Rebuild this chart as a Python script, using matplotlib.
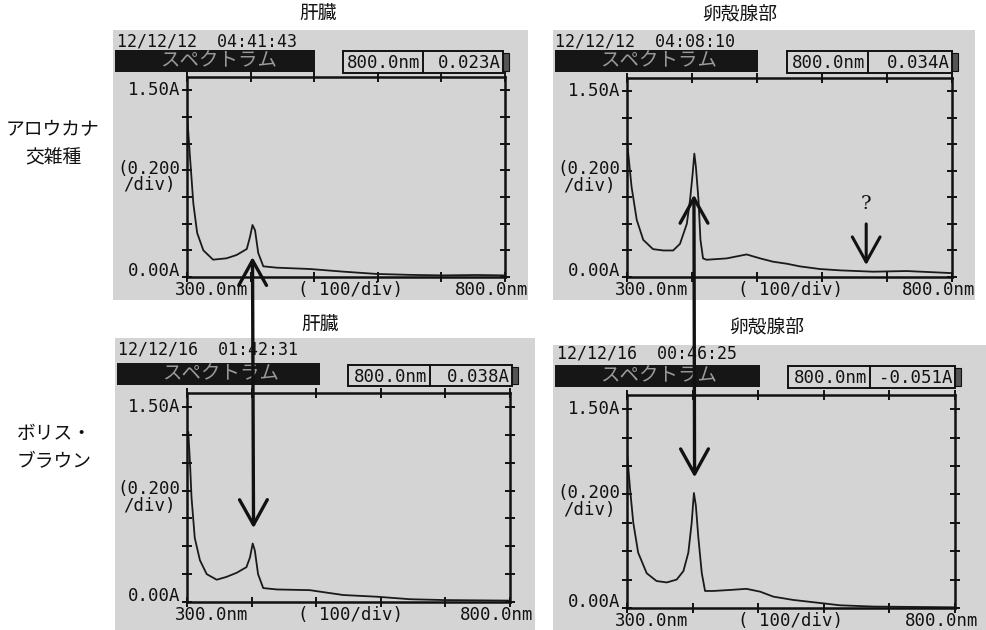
import matplotlib
matplotlib.use('Agg')
import matplotlib.pyplot as plt
from matplotlib.patches import Rectangle, ConnectionPatch, ArrowStyle

# ---------------- data ----------------
col_titles = ['肝臓', '卵殻腺部', '肝臓', '卵殻腺部']
row_labels = ['アロウカナ\n交雑種', 'ボリス・\nブラウン']
timestamps = ['12/12/12  04:41:43', '12/12/12  04:08:10',
              '12/12/16  01:42:31', '12/12/16  00:46:25']
readout_wl = ['800.0nm', '800.0nm', '800.0nm', '800.0nm']
readout_abs = ['0.023A', '0.034A', '0.038A', '-0.051A']
screen_title = 'スペクトラム'

# Araucana cross - liver
wl_tl = [300.5, 304.7, 310, 316, 325.7, 341, 362, 378, 394, 399, 403, 407, 412,
         420, 441, 493, 546, 598, 650, 703, 755, 800]
abs_tl = [1.19, 0.90, 0.55, 0.33, 0.20, 0.13, 0.14, 0.165, 0.21, 0.30, 0.39, 0.35,
          0.18, 0.08, 0.07, 0.06, 0.04, 0.023, 0.016, 0.012, 0.015, 0.012]
# Araucana cross - shell gland
wl_tr = [300.5, 307, 315, 325, 340, 356, 371, 381.5, 392, 397, 401, 403.6, 406,
         410, 413, 417, 422.5, 453, 484, 505, 525, 546, 566, 597, 628, 679, 730, 797]
abs_tr = [1.00, 0.68, 0.43, 0.28, 0.21, 0.20, 0.20, 0.25, 0.40, 0.58, 0.78, 0.93,
          0.83, 0.58, 0.28, 0.14, 0.13, 0.14, 0.17, 0.14, 0.115, 0.10, 0.08, 0.06,
          0.05, 0.04, 0.045, 0.03]
# Boris Brown - liver
wl_bl = [302, 304.6, 307, 312, 320, 330.5, 346, 361, 377, 392, 397.5, 401.7, 405,
         410, 418, 439, 490, 542, 593.6, 645, 697, 797]
abs_bl = [1.22, 1.00, 0.75, 0.46, 0.30, 0.20, 0.16, 0.18, 0.21, 0.25, 0.32, 0.42,
          0.37, 0.20, 0.10, 0.09, 0.085, 0.05, 0.038, 0.02, 0.014, 0.01]
# Boris Brown - shell gland
wl_br = [300.5, 304.6, 309.6, 317, 330, 345, 360.5, 375.7, 386, 393.5, 398.6, 402,
         405, 408.7, 414, 419, 431.5, 457, 482, 503, 523, 553, 589, 625, 676, 797]
abs_br = [1.07, 0.84, 0.60, 0.39, 0.245, 0.19, 0.18, 0.20, 0.26, 0.39, 0.60, 0.81,
          0.72, 0.50, 0.245, 0.12, 0.12, 0.127, 0.135, 0.115, 0.08, 0.057, 0.038,
          0.019, 0.01, 0.005]

series = [(wl_tl, abs_tl), (wl_tr, abs_tr), (wl_bl, abs_bl), (wl_br, abs_br)]

# ---------------- layout (pixels) ----------------
W, H = 986, 630
layouts = [
    dict(screen=(113, 30, 528, 300), ax=(187, 77, 505, 277), date=(117, 41),
         bar=(115, 50, 315, 72), box=(343, 51, 423, 503, 73), title=(318, 14)),
    dict(screen=(553, 30, 975, 300), ax=(627, 78, 952, 277), date=(555, 41),
         bar=(555, 50, 758, 72), box=(787, 51, 868, 952, 73), title=(740, 14)),
    dict(screen=(115, 338, 535, 630), ax=(187, 393, 510, 602), date=(118, 350),
         bar=(117, 363, 320, 385), box=(348, 365, 430, 512, 386), title=(320, 325)),
    dict(screen=(553, 345, 986, 630), ax=(627, 395, 955, 608), date=(557, 353),
         bar=(555, 365, 760, 387), box=(788, 366, 870, 955, 388), title=(767, 327)),
]

fig = plt.figure(figsize=(W / 100, H / 100), dpi=100)
fig.patch.set_facecolor('white')

def fx(x):
    return x / W

def fy(y):
    return 1 - y / H

def frect(x0, y0, x1, y1, **kw):
    r = Rectangle((fx(x0), fy(y1)), fx(x1) - fx(x0), fy(y0) - fy(y1),
                  transform=fig.transFigure, **kw)
    fig.add_artist(r)
    return r

MONO = 'DejaVu Sans Mono'
CJK = ['Noto Sans CJK JP', 'DejaVu Sans']
SCREEN = '#d4d4d4'

axes = []
for i, (lay, (wl, ab)) in enumerate(zip(layouts, series)):
    # screen background
    frect(*lay['screen'], facecolor=SCREEN, edgecolor='none', zorder=0)
    # column title
    fig.text(fx(lay['title'][0]), fy(lay['title'][1]), col_titles[i], family=CJK,
             fontsize=13.5, ha='center', va='center', color='#111')
    # date
    fig.text(fx(lay['date'][0]), fy(lay['date'][1]), timestamps[i], family=MONO,
             fontsize=12, ha='left', va='center', color='#111')
    # black title bar
    bx0, by0, bx1, by1 = lay['bar']
    frect(bx0, by0, bx1, by1, facecolor='#161616', edgecolor='none', zorder=1)
    fig.text(fx(bx0 + 45), fy((by0 + by1) / 2), screen_title, family=CJK,
             fontsize=14, ha='left', va='center', color='#9a9a9a', zorder=2)
    # readout box
    x0, y0, xd, x1, y1 = lay['box']
    frect(x0, y0, x1, y1, facecolor='none', edgecolor='#111', lw=1.4, zorder=2)
    fig.add_artist(plt.Line2D([fx(xd), fx(xd)], [fy(y0), fy(y1)],
                              transform=fig.transFigure, color='#111', lw=1.4))
    frect(x1, y0 + 2, x1 + 6, y1 - 2, facecolor='#555', edgecolor='#111', lw=0.8,
          zorder=2)
    fig.text(fx(xd - 3), fy((y0 + y1) / 2 + 1), readout_wl[i], family=MONO,
             fontsize=12.5, ha='right', va='center', color='#111')
    fig.text(fx(x1 - 2), fy((y0 + y1) / 2 + 1), readout_abs[i], family=MONO,
             fontsize=12.5, ha='right', va='center', color='#111')

    # axes
    l, t, r, b = lay['ax']
    ax = fig.add_axes([fx(l), fy(b), fx(r) - fx(l), fy(t) - fy(b)])
    ax.set_facecolor('none')
    ax.plot(wl, ab, color='#1a1a1a', lw=1.3)
    ax.set_xlim(300, 800)
    ax.set_ylim(0, 1.5)
    ax.set_xticks([300, 400, 500, 600, 700, 800])
    ax.set_yticks([0, 0.2, 0.4, 0.6, 0.8, 1.0, 1.2, 1.4])
    ax.tick_params(direction='inout', length=7, width=1.4, top=True, right=True,
                   labelbottom=False, labelleft=False, color='#111')
    for s in ax.spines.values():
        s.set_linewidth(1.8)
        s.set_color('#111')
    axes.append(ax)

    h = b - t
    # y labels
    fig.text(fx(l - 7), fy(b - 0.935 * h), '1.50A', family=MONO, fontsize=12.5,
             ha='right', va='center', color='#111')
    fig.text(fx(l - 38), fy(b - 0.5 * h), '(0.200\n/div)', family=MONO,
             fontsize=12.5, ha='center', va='center', color='#111',
             multialignment='center', linespacing=0.9)
    fig.text(fx(l - 7), fy(b - 0.03 * h), '0.00A', family=MONO, fontsize=12.5,
             ha='right', va='center', color='#111')
    # x labels
    fig.text(fx(l - 12), fy(b + 13), '300.0nm', family=MONO, fontsize=12.5,
             ha='left', va='center', color='#111')
    fig.text(fx(l + 111), fy(b + 13), '( 100/div)', family=MONO, fontsize=12.5,
             ha='left', va='center', color='#111')
    fig.text(fx(r - 50), fy(b + 13), '800.0nm', family=MONO, fontsize=12.5,
             ha='left', va='center', color='#111')

# row labels
fig.text(fx(53), fy(144), row_labels[0], family=CJK, fontsize=13.5, ha='center',
         va='center', multialignment='center', linespacing=1.45, color='#111')
fig.text(fx(17), fy(448), row_labels[1], family=CJK, fontsize=13.5, ha='left',
         va='center', multialignment='left', linespacing=1.45, color='#111')

# arrows linking the Soret peaks
style = ArrowStyle('<->', head_length=0.9, head_width=0.5)
ax_tl, ax_tr, ax_bl, ax_br = axes
for aA, yA, aB, yB in [(ax_tl, 0.15, ax_bl, 0.53), (ax_tr, 0.62, ax_br, 0.92)]:
    cp = ConnectionPatch(xyA=(403, yA), coordsA=aA.transData,
                         xyB=(403, yB), coordsB=aB.transData,
                         arrowstyle=style, mutation_scale=20, lw=2.4,
                         color='#111', shrinkA=0, shrinkB=0, zorder=10)
    fig.add_artist(cp)

ax_tr.annotate('', xy=(668, 0.09), xytext=(668, 0.40),
               arrowprops=dict(arrowstyle=ArrowStyle('->', head_length=0.9,
                                                     head_width=0.5),
                               mutation_scale=20, lw=2.2, color='#111',
                               shrinkA=0, shrinkB=0))
ax_tr.text(668, 0.55, '?', fontsize=14, family='DejaVu Serif', ha='center',
           va='center', color='#111')

fig.savefig('out.png', dpi=100, facecolor='white')
